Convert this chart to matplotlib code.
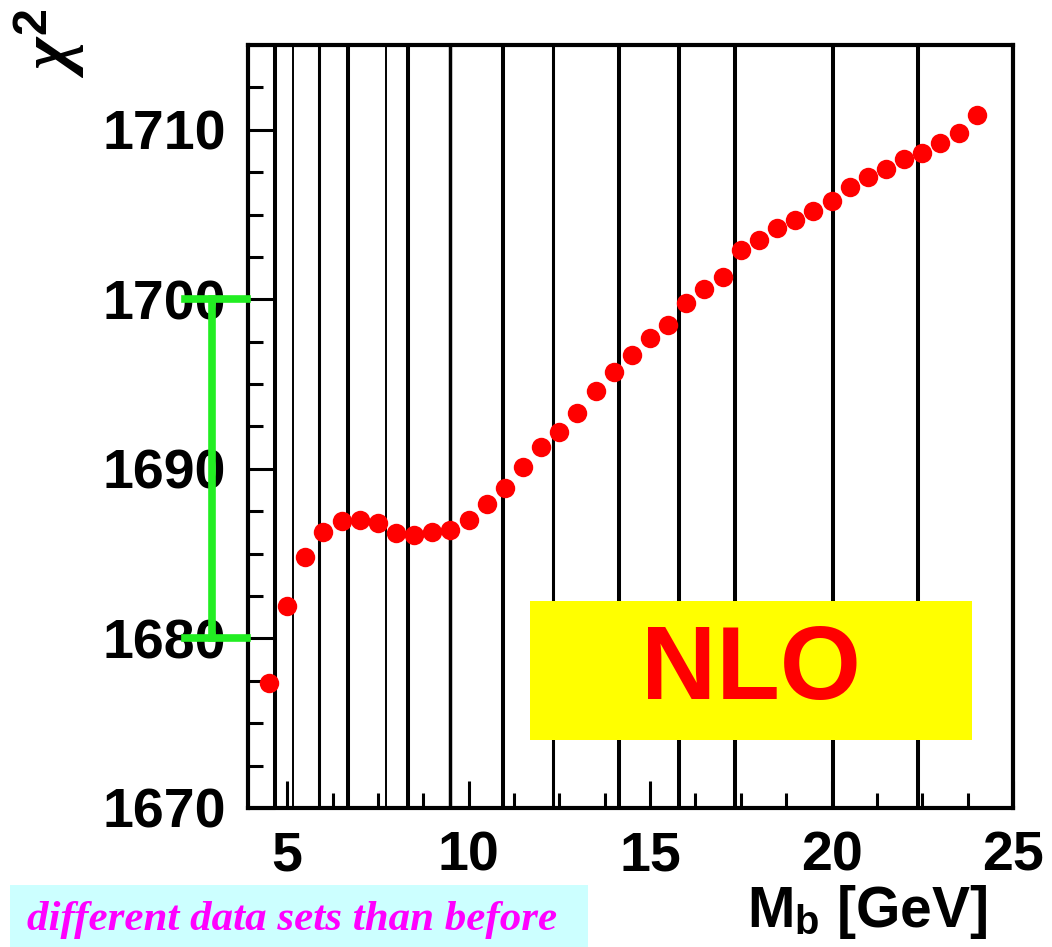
import matplotlib
matplotlib.use("Agg")
import matplotlib.pyplot as plt
from matplotlib.ticker import MultipleLocator

plt.rcParams['font.family'] = ['Liberation Sans', 'DejaVu Sans']
plt.rcParams['mathtext.fontset'] = 'custom'
plt.rcParams['mathtext.rm'] = 'Liberation Sans:bold'
plt.rcParams['mathtext.it'] = 'Liberation Serif:bold:italic'
plt.rcParams['mathtext.bf'] = 'Liberation Sans:bold'

# chi^2 scan vs b-quark mass (NLO)
mb = [4.5, 5.0, 5.5, 6.0, 6.5, 7.0, 7.5, 8.0, 8.5, 9.0,
      9.5, 10.0, 10.5, 11.0, 11.5, 12.0, 12.5, 13.0, 13.5, 14.0,
      14.5, 15.0, 15.5, 16.0, 16.5, 17.0, 17.5, 18.0, 18.5, 19.0,
      19.5, 20.0, 20.5, 21.0, 21.5, 22.0, 22.5, 23.0, 23.5, 24.0]
chi2 = [1677.4, 1681.9, 1684.8, 1686.3, 1686.9, 1687.0, 1686.8, 1686.2, 1686.1, 1686.3,
        1686.4, 1687.0, 1687.9, 1688.9, 1690.1, 1691.3, 1692.2, 1693.3, 1694.6, 1695.7,
        1696.7, 1697.7, 1698.5, 1699.8, 1700.6, 1701.3, 1702.9, 1703.5, 1704.2, 1704.7,
        1705.2, 1705.8, 1706.6, 1707.2, 1707.7, 1708.3, 1708.6, 1709.2, 1709.8, 1710.9]

# vertical reference lines
vline_x = [4.67, 5.17, 5.88, 6.69, 7.73, 8.34, 9.48, 10.94, 12.32, 14.14,
           15.80, 17.35, 20.03, 22.38]
vline_w = [2.9, 1.4, 2.2, 2.9, 1.4, 2.9, 2.5, 2.9, 2.2, 2.9,
           2.9, 2.9, 2.9, 2.9]

bracket = [1680, 1700]

fig = plt.figure(figsize=(10.52, 9.47), dpi=100)
ax = fig.add_axes([0.2357, 0.1468, 0.7272, 0.8057])

for xv, lw in zip(vline_x, vline_w):
    ax.axvline(xv, color='black', lw=lw, zorder=1)

ax.plot(mb, chi2, 'o', color='#ff0000', markersize=14, markeredgewidth=0, zorder=3)

ax.set_xlim(3.92, 25)
ax.set_ylim(1670, 1715)

ax.xaxis.set_major_locator(MultipleLocator(5))
ax.xaxis.set_minor_locator(MultipleLocator(1.25))
ax.yaxis.set_major_locator(MultipleLocator(10))
ax.yaxis.set_minor_locator(MultipleLocator(2.5))
ax.tick_params(which='both', direction='in', top=False, right=False, width=2.2)
ax.tick_params(which='major', length=19.5, labelsize=40, pad=16)
ax.tick_params(which='minor', length=11)
for lbl in ax.get_xticklabels() + ax.get_yticklabels():
    lbl.set_fontweight('bold')
for sp in ax.spines.values():
    sp.set_linewidth(3)

ax.set_xlabel(r'M$_{\rm b}$ [GeV]', fontsize=41, fontweight='bold', ha='right', va='baseline')
ax.xaxis.set_label_coords(0.966, -0.156)

fig.text(0.047, 0.955, r'$\chi^{2}$', rotation=90, fontsize=50, ha='center', va='center')

# green bracket over the y axis
gx = ax.get_yaxis_transform()
ax.plot([-0.047, -0.047], bracket, color='#22ee22', lw=5.5, transform=gx, clip_on=False, zorder=5)
for yb in bracket:
    ax.plot([-0.082, -0.001], [yb, yb], color='#22ee22', lw=5.5, transform=gx, clip_on=False, zorder=5)

# NLO box
ax.add_patch(plt.Rectangle((0.3686, 0.0891), 0.5778, 0.1822, transform=ax.transAxes,
                           facecolor='#ffff00', edgecolor='none', zorder=4))
ax.text(0.657, 0.178, 'NLO', transform=ax.transAxes, color='#ff0000', fontsize=75,
        fontweight='bold', ha='center', va='center', zorder=5)

# note box
fig.patches.append(plt.Rectangle((0.0095, 0.0), 0.5494, 0.0655, transform=fig.transFigure,
                                 facecolor='#ccffff', edgecolor='none', zorder=0))
fig.text(0.278, 0.029, 'different data sets than before', color='#ff00ff', fontsize=31,
         family='Liberation Serif', fontweight='bold', fontstyle='italic',
         ha='center', va='center')

fig.savefig('out.png', dpi=100)
